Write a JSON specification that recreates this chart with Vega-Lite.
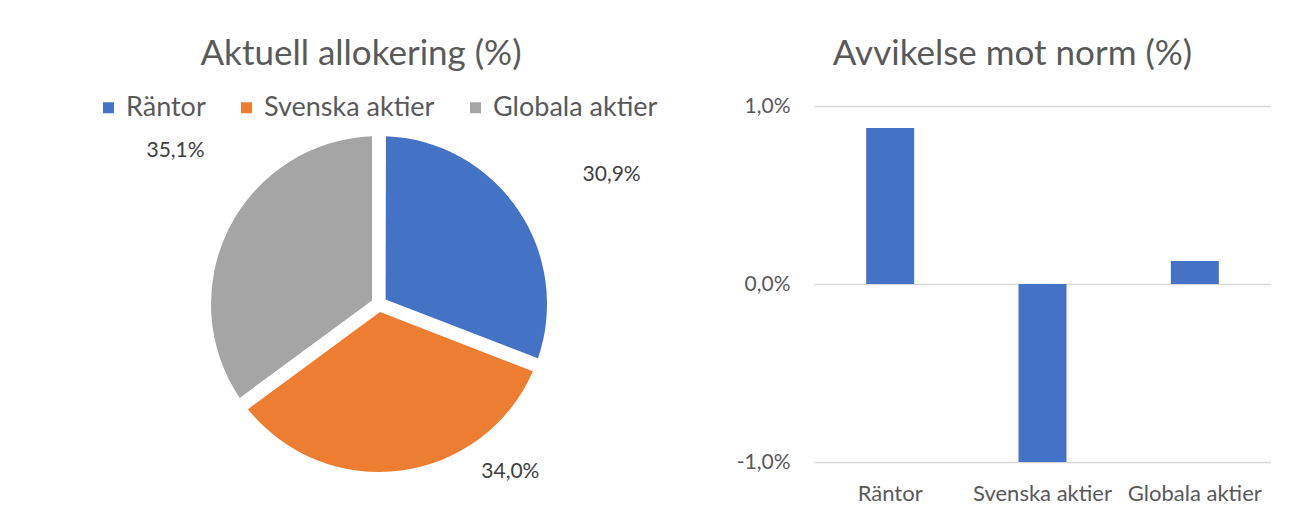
{
  "$schema": "https://vega.github.io/schema/vega-lite/v6.json",
  "background": "white",
  "padding": {"left": 44, "top": 37, "right": 0, "bottom": 0},
  "spacing": 22,
  "config": {
    "view": {"stroke": null},
    "font": "Lato",
    "title": {"font": "Lato", "fontSize": 35, "fontWeight": "normal", "color": "#595959"}
  },
  "hconcat": [
    {
      "width": 670,
      "height": 396,
      "title": {"text": "Aktuell allokering (%)", "anchor": "middle", "frame": "group", "dx": -18, "offset": 34},
      "data": {
        "values": [
          {"category": "Räntor", "value": 30.9, "label": "30,9%", "rank": 1},
          {"category": "Svenska aktier", "value": 34.0, "label": "34,0%", "rank": 2},
          {"category": "Globala aktier", "value": 35.1, "label": "35,1%", "rank": 3}
        ]
      },
      "layer": [
        {
          "mark": {"type": "arc", "innerRadius": 8, "outerRadius": 168, "padAngle": 0.083},
          "encoding": {
            "theta": {"field": "value", "type": "quantitative", "stack": true},
            "order": {"field": "rank", "type": "quantitative"},
            "color": {
              "field": "category",
              "type": "nominal",
              "sort": ["Räntor", "Svenska aktier", "Globala aktier"],
              "scale": {"domain": ["Räntor", "Svenska aktier", "Globala aktier"], "range": ["#4472C4", "#ED7D31", "#A5A5A5"]},
              "legend": {
                "title": null,
                "orient": "none",
                "direction": "horizontal",
                "legendX": 51,
                "legendY": -12,
                "symbolType": "square",
                "symbolSize": 121,
                "symbolStrokeWidth": 0,
                "symbolOpacity": 1,
                "labelFontSize": 27,
                "labelColor": "#595959",
                "labelFont": "Lato",
                "labelOffset": 4,
                "labelLimit": 400,
                "columnPadding": 27
              }
            }
          }
        },
        {
          "mark": {"type": "text", "radius": 260, "dx": 18, "dy": 18, "fontSize": 21, "color": "#404040", "font": "Lato"},
          "encoding": {
            "theta": {"field": "value", "type": "quantitative", "stack": true},
            "order": {"field": "rank", "type": "quantitative"},
            "text": {"condition": {"test": "datum.category === 'Räntor'", "field": "label"}, "value": ""}
          }
        },
        {
          "mark": {"type": "text", "radius": 170, "dx": 109, "dy": -1, "fontSize": 21, "color": "#404040", "font": "Lato"},
          "encoding": {
            "theta": {"field": "value", "type": "quantitative", "stack": true},
            "order": {"field": "rank", "type": "quantitative"},
            "text": {"condition": {"test": "datum.category === 'Svenska aktier'", "field": "label"}, "value": ""}
          }
        },
        {
          "mark": {"type": "text", "radius": 228, "dx": 0, "dy": -50, "fontSize": 21, "color": "#404040", "font": "Lato"},
          "encoding": {
            "theta": {"field": "value", "type": "quantitative", "stack": true},
            "order": {"field": "rank", "type": "quantitative"},
            "text": {"condition": {"test": "datum.category === 'Globala aktier'", "field": "label"}, "value": ""}
          }
        }
      ]
    },
    {
      "width": 457,
      "height": 356,
      "title": {"text": "Avvikelse mot norm (%)", "anchor": "middle", "frame": "group", "dx": -30, "offset": 23},
      "data": {
        "values": [
          {"category": "Räntor", "deviation": 0.00876},
          {"category": "Svenska aktier", "deviation": -0.0100},
          {"category": "Globala aktier", "deviation": 0.00129}
        ]
      },
      "mark": {"type": "bar", "color": "#4472C4", "width": {"band": 0.315}},
      "encoding": {
        "x": {
          "field": "category",
          "type": "nominal",
          "sort": null,
          "scale": {"paddingInner": 0, "paddingOuter": 0},
          "axis": {
            "title": null,
            "labelAngle": 0,
            "ticks": false,
            "domain": false,
            "labelPadding": 21,
            "labelFontSize": 22,
            "labelColor": "#595959",
            "labelFont": "Lato"
          }
        },
        "y": {
          "field": "deviation",
          "type": "quantitative",
          "scale": {"domain": [-0.01, 0.01], "nice": false},
          "axis": {
            "title": null,
            "values": [-0.01, 0, 0.01],
            "labelExpr": "replace(replace(format(datum.value, '.1%'), '.', ','), '\u2212', '-')",
            "ticks": false,
            "domain": false,
            "grid": true,
            "gridColor": "#D9D9D9",
            "gridWidth": 1.3,
            "labelPadding": 24,
            "labelFontSize": 21,
            "labelColor": "#595959",
            "labelFont": "Lato",
            "minExtent": 74,
            "maxExtent": 74
          }
        }
      }
    }
  ]
}
